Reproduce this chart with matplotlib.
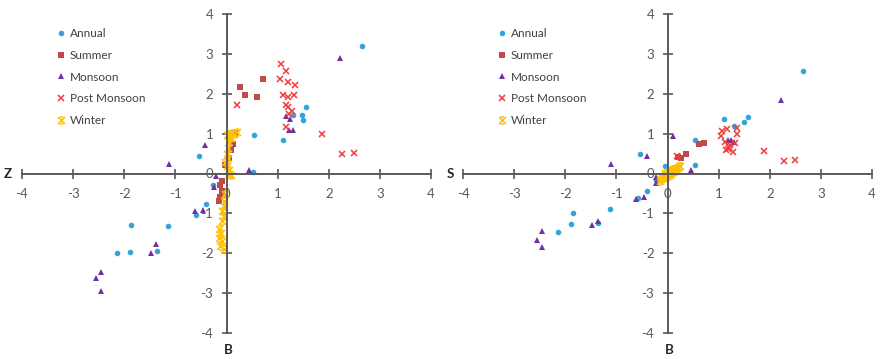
import matplotlib
matplotlib.use("Agg")
import matplotlib.pyplot as plt
from matplotlib.path import Path

# --- data (left: Z vs B, right: S vs B) ---
series_names = ["Annual", "Summer", "Monsoon", "Post Monsoon", "Winter"]

z_annual_x = [2.65, 1.56, 1.48, 1.50, 1.31, 1.10, 0.53, 0.52, -0.54, -0.27, -0.41, -0.59, -1.86, -1.14, -2.15, -1.89, -1.35]
z_annual_y = [3.2, 1.66, 1.47, 1.33, 1.47, 0.85, 0.96, 0.03, 0.43, -0.30, -0.76, -1.05, -1.3, -1.32, -2.0, -1.98, -1.94]

z_summer_x = [0.72, 0.27, 0.36, 0.60, 0.17, 0.12, 0.08, 0.05, -0.02, -0.08, -0.12, -0.08, -0.12, -0.15]
z_summer_y = [2.38, 2.17, 1.98, 1.91, 1.02, 0.75, 0.60, 0.40, 0.22, -0.19, -0.30, -0.44, -0.60, -0.69]

z_monsoon_x = [2.22, 1.17, 1.25, 1.22, 1.31, 0.11, -0.42, 0.44, -0.21, -0.25, -0.62, -0.46, -1.13, -1.37, -1.47, -2.45, -2.55, -2.45]
z_monsoon_y = [2.89, 1.43, 1.36, 1.08, 1.08, 0.75, 0.71, 0.08, -0.07, -0.33, -0.94, -0.92, 0.25, -1.78, -2.0, -2.47, -2.61, -2.95]

z_post_x = [1.07, 1.17, 1.04, 1.20, 1.34, 1.10, 1.20, 1.33, 1.17, 1.20, 1.28, 1.23, 1.17, 1.87, 2.26, 2.50, 0.20]
z_post_y = [2.75, 2.58, 2.38, 2.29, 2.23, 1.98, 1.92, 1.98, 1.73, 1.67, 1.56, 1.49, 1.17, 1.00, 0.48, 0.52, 1.73]

z_winter_x = [0.0, 0.05, 0.10, 0.15, 0.20, 0.08, 0.05, 0.03, 0.0, 0.02, -0.02, 0.0, 0.04, 0.05, 0.08,
              -0.02, -0.05, -0.05, -0.08, -0.05, -0.08, -0.15, -0.10, -0.15, -0.08, -0.12, -0.05]
z_winter_y = [0.97, 1.00, 1.02, 0.98, 1.03, 0.90, 0.80, 0.65, 0.50, 0.40, 0.30, 0.20, 0.10, 0.0, -0.05,
              -0.52, -0.69, -0.82, -0.94, -1.07, -1.19, -1.40, -1.48, -1.61, -1.69, -1.82, -1.90]

s_annual_x = [2.65, 1.11, 1.31, 1.49, 1.57, 0.53, 0.53, -0.54, -0.04, -0.23, -0.41, -0.58, -1.13, -1.84, -1.88, -2.15, -1.35]
s_annual_y = [2.58, 1.36, 1.18, 1.28, 1.42, 0.84, 0.21, 0.48, 0.20, -0.16, -0.44, -0.62, -0.90, -0.98, -1.26, -1.47, -1.24]

s_summer_x = [0.61, 0.72, 0.27, 0.36, 0.20, 0.18, 0.10, 0.12, 0.05, 0.15]
s_summer_y = [0.73, 0.76, 0.38, 0.48, 0.42, 0.14, 0.12, 0.05, 0.08, 0.03]

s_monsoon_x = [2.22, 1.18, 1.24, 1.31, 0.11, 0.45, -0.41, -1.11, -0.23, -0.23, -0.46, -0.61, -1.35, -1.47, -2.45, -2.55, -2.45]
s_monsoon_y = [1.85, 0.83, 0.85, 0.78, 0.93, 0.09, 0.45, 0.24, -0.09, -0.23, -0.58, -0.63, -1.18, -1.30, -1.45, -1.68, -1.84]

s_post_x = [1.07, 1.17, 1.04, 1.35, 1.35, 1.13, 1.20, 1.15, 1.28, 1.33, 1.22, 1.18, 1.88, 2.27, 2.50, 0.19]
s_post_y = [1.06, 1.12, 0.93, 1.13, 0.99, 0.78, 0.66, 0.58, 0.53, 0.77, 0.72, 0.62, 0.56, 0.31, 0.33, 0.44]

s_winter_x = [-0.15, -0.12, -0.10, -0.08, -0.05, -0.03, 0.0, 0.02, 0.04, 0.05, 0.07, 0.08, 0.10, 0.12,
              0.13, 0.15, 0.17, 0.20, 0.22, 0.25, 0.0, 0.05, 0.10, -0.05, 0.15]
s_winter_y = [-0.20, -0.15, -0.10, -0.12, -0.05, -0.08, 0.0, -0.02, 0.03, 0.06, 0.02, 0.08, 0.05, 0.10,
              0.06, 0.12, 0.15, 0.14, 0.18, 0.20, 0.05, -0.05, 0.12, 0.02, 0.08]

ticks = [-4, -3, -2, -1, 0, 1, 2, 3, 4]

# --- styles ---
plt.rcParams['font.family'] = ['Lato', 'DejaVu Sans']
plt.rcParams['axes.unicode_minus'] = False  # Excel-style hyphen minus
axis_col = "#595959"

# Excel-like "star" marker: an X with short bars top and bottom
star = Path([(-1, -1), (1, 1), (-1, 1), (1, -1), (-0.5, 1), (0.5, 1), (-0.5, -1), (0.5, -1)],
            [Path.MOVETO, Path.LINETO, Path.MOVETO, Path.LINETO,
             Path.MOVETO, Path.LINETO, Path.MOVETO, Path.LINETO])

styles = [
    dict(marker="o", color="#35A3DB", ms=4.0, mew=0),
    dict(marker="s", color="#BE4B48", ms=3.8, mew=0),
    dict(marker="^", color="#7030A0", ms=4.6, mew=0),
    dict(marker="x", color="#F23A3A", ms=3.8, mew=1.1),
    dict(marker=star, color="#FFC000", ms=5.0, mew=1.1),
]

fig = plt.figure(figsize=(8.8, 3.59), dpi=100)
W, H = 880, 359


def panel(left_px, data, xlab, xlab_px):
    ax = fig.add_axes([left_px / W, (H - 333) / H, 409 / W, 319 / H])
    for (xs, ys), name, st in zip(data, series_names, styles):
        ax.plot(xs, ys, linestyle="none", label=name, **st)
    ax.set_xlim(-4, 4)
    ax.set_ylim(-4, 4)
    ax.set_xticks(ticks)
    ax.set_yticks(ticks)
    for side in ["top", "right"]:
        ax.spines[side].set_visible(False)
    for side in ["left", "bottom"]:
        ax.spines[side].set_position("zero")
        ax.spines[side].set_color(axis_col)
        ax.spines[side].set_linewidth(1.4)
    ax.tick_params(direction="inout", length=7, width=1.2, color=axis_col,
                   labelcolor=axis_col, labelsize=9.5)
    ax.tick_params(axis="x", pad=7)
    ax.tick_params(axis="y", pad=6)
    ax.patch.set_alpha(0)
    leg = ax.legend(loc="upper left", bbox_to_anchor=(0.085, 0.955), frameon=False,
                    fontsize=8.5, labelspacing=0.9, handlelength=0.8, handletextpad=0.3,
                    borderpad=0, borderaxespad=0, numpoints=1)
    for t in leg.get_texts():
        t.set_color("#404040")
    fig.text(xlab_px / W, 1 - 174 / H, xlab, ha="center", va="center",
             fontsize=9.5, fontweight="bold", color="#262626")
    fig.text((left_px + 206) / W, 1 - 350 / H, "B", ha="center", va="center",
             fontsize=9.5, fontweight="bold", color="#262626")
    return ax


panel(22, [(z_annual_x, z_annual_y), (z_summer_x, z_summer_y), (z_monsoon_x, z_monsoon_y),
           (z_post_x, z_post_y), (z_winter_x, z_winter_y)], "Z", 8)
panel(463, [(s_annual_x, s_annual_y), (s_summer_x, s_summer_y), (s_monsoon_x, s_monsoon_y),
            (s_post_x, s_post_y), (s_winter_x, s_winter_y)], "S", 450)

fig.savefig("out.png", dpi=100)
